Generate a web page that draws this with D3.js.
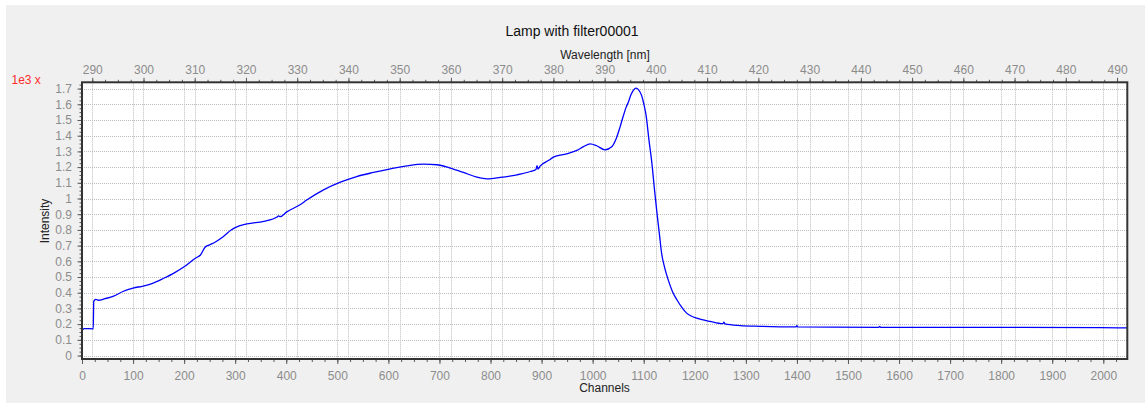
<!DOCTYPE html>
<html>
<head>
<meta charset="utf-8">
<script src="https://cdn.jsdelivr.net/npm/d3@7"></script>
<style>
  html, body { margin: 0; padding: 0; background: #ffffff; }
  svg { display: block; font-family: "Liberation Sans", Arial, sans-serif; }
</style>
</head>
<body>
<svg id="chart" width="1145" height="403"></svg>
<script>
// Spectrum: detector channel vs. intensity (counts)
const channels = [0, 4, 22, 23, 27, 32, 45, 62, 80, 100, 120, 137, 160, 180, 200, 222, 232, 241, 250, 262,
  277, 292, 300, 323, 356, 382, 385, 388, 401, 427, 440, 473, 506, 538, 571, 604, 636, 669, 695, 721,
  747, 773, 793, 819, 852, 878, 889, 891, 893, 897, 915, 923, 949, 969, 982, 995, 1008, 1024, 1038, 1046, 1054,
  1060, 1066, 1070, 1075, 1080, 1085, 1090, 1096, 1100, 1105, 1110, 1116, 1121, 1126, 1131, 1135, 1141, 1148, 1156,
  1165, 1175, 1184, 1194, 1204, 1230, 1255, 1257, 1259, 1289, 1328,
  1398, 1400, 1402, 1560, 1562, 1564, 1800, 1995, 2047];
const intensity = [160, 172, 170, 345, 358, 352, 362, 378, 408, 430, 442, 458, 492, 525, 565, 620, 640, 690, 705, 725,
  758, 800, 815, 838, 855, 882, 890, 884, 915, 960, 990, 1055, 1104, 1140, 1166, 1189, 1208, 1219, 1215, 1194,
  1166, 1136, 1125, 1134, 1151, 1172, 1185, 1210, 1188, 1206, 1245, 1264, 1285, 1306, 1330, 1348, 1336, 1310, 1331, 1380, 1459,
  1525, 1585, 1615, 1660, 1690, 1703, 1692, 1655, 1605, 1522, 1380, 1225, 1060, 907, 765, 652, 560, 482, 410,
  355, 305, 270, 250, 238, 217, 203, 212, 202, 191, 186,
  182, 190, 182, 180, 186, 180, 180, 178, 176];

// Axis ranges and tick values
const channelDomain = [0, 2047];
const wavelengthDomain = [288, 492];          // nm, linear calibration over the channel range
const intensityDomain = [-22, 1740];
const channelTicks = d3.range(0, 2001, 100);
const channelMinor = d3.range(0, 2047, 25);
const wavelengthTicks = d3.range(290, 491, 10);
const wavelengthMinor = d3.range(290, 492, 2.5);
const intensityTicks = d3.range(0, 1701, 100);
const intensityMinor = d3.range(0, 1740, 25);

const titleText = "Lamp with filter00001";
const xTitle = "Channels";
const x2Title = "Wavelength [nm]";
const yTitle = "Intensity";
const yMultiplier = "1e3 x";

const svg = d3.select("#chart");
const W = 1145, H = 403;
const plot = { left: 82, right: 1127.3, top: 82.3, bottom: 359 };

// Panel background
svg.append("rect").attr("x", 6).attr("y", 5).attr("width", W - 6).attr("height", H - 5).attr("fill", "#f0f0f0");
svg.append("rect")
  .attr("x", plot.left).attr("y", plot.top)
  .attr("width", plot.right - plot.left).attr("height", plot.bottom - plot.top)
  .attr("fill", "#ffffff");

const x = d3.scaleLinear().domain(channelDomain).range([plot.left, plot.right]);
const xw = d3.scaleLinear().domain(wavelengthDomain).range([plot.left, plot.right]);
const y = d3.scaleLinear().domain(intensityDomain).range([plot.bottom, plot.top]);

// Dotted grid lines: both x axes' majors and the intensity majors
const grid = svg.append("g").attr("stroke", "#bdbdbd").attr("stroke-width", 1).attr("stroke-dasharray", "1,1");
grid.selectAll(".gx").data(channelTicks).join("line")
  .attr("x1", d => Math.round(x(d)) + 0.5).attr("x2", d => Math.round(x(d)) + 0.5)
  .attr("y1", plot.top).attr("y2", plot.bottom);
grid.selectAll(".gw").data(wavelengthTicks).join("line")
  .attr("x1", d => Math.round(xw(d)) + 0.5).attr("x2", d => Math.round(xw(d)) + 0.5)
  .attr("y1", plot.top).attr("y2", plot.bottom);
grid.selectAll(".gy").data(intensityTicks).join("line")
  .attr("x1", plot.left).attr("x2", plot.right)
  .attr("y1", d => Math.round(y(d)) + 0.5).attr("y2", d => Math.round(y(d)) + 0.5);

// Spectrum line
const pts = channels.map((c, i) => [c, intensity[i]]);
svg.append("path")
  .datum(pts)
  .attr("fill", "none")
  .attr("stroke", "#0000ff")
  .attr("stroke-width", 1.3)
  .attr("stroke-linejoin", "round")
  .attr("d", d3.line().curve(d3.curveMonotoneX).x(d => x(d[0])).y(d => y(d[1])));

// Axes
const tickColor = "#5a5a5a";
const labelColor = "#8c8c8c";
function styleAxis(g) {
  g.select(".domain").remove();
  g.selectAll(".tick line").attr("stroke", tickColor);
  g.selectAll(".tick text").attr("fill", labelColor).attr("font-size", 12)
    .attr("font-family", "'Liberation Sans', Arial, sans-serif");
}

// bottom: channels
svg.append("g").attr("transform", `translate(0,${plot.bottom})`)
  .call(d3.axisBottom(x).tickValues(channelMinor).tickSize(3).tickFormat(""))
  .call(styleAxis);
svg.append("g").attr("transform", `translate(0,${plot.bottom})`)
  .call(d3.axisBottom(x).tickValues(channelTicks).tickSize(5).tickPadding(7).tickFormat(d3.format("d")))
  .call(styleAxis);

// top: wavelength
svg.append("g").attr("transform", `translate(0,${plot.top})`)
  .call(d3.axisTop(xw).tickValues(wavelengthMinor).tickSize(2.5).tickFormat(""))
  .call(styleAxis);
svg.append("g").attr("transform", `translate(0,${plot.top})`)
  .call(d3.axisTop(xw).tickValues(wavelengthTicks).tickSize(4.5).tickPadding(4).tickFormat(d3.format("d")))
  .call(styleAxis);

// left: intensity, labelled in thousands
svg.append("g").attr("transform", `translate(${plot.left},0)`)
  .call(d3.axisLeft(y).tickValues(intensityMinor).tickSize(2.5).tickFormat(""))
  .call(styleAxis);
svg.append("g").attr("transform", `translate(${plot.left},0)`)
  .call(d3.axisLeft(y).tickValues(intensityTicks).tickSize(4.5).tickPadding(5.5).tickFormat(d => d3.format("~g")(d / 1000)))
  .call(styleAxis);

// Plot frame
svg.append("rect")
  .attr("x", plot.left).attr("y", plot.top)
  .attr("width", plot.right - plot.left).attr("height", plot.bottom - plot.top)
  .attr("fill", "none").attr("stroke", "#333333").attr("stroke-width", 2);

// Titles
svg.append("text").attr("x", 572).attr("y", 36).attr("text-anchor", "middle")
  .attr("font-size", 14).attr("fill", "#111").text(titleText);
svg.append("text").attr("x", 605).attr("y", 58.5).attr("text-anchor", "middle")
  .attr("font-size", 12).attr("fill", "#222").text(x2Title);
svg.append("text").attr("x", 604.5).attr("y", 392).attr("text-anchor", "middle")
  .attr("font-size", 12).attr("fill", "#222").text(xTitle);
svg.append("text").attr("transform", "translate(48.5,221) rotate(-90)").attr("text-anchor", "middle")
  .attr("font-size", 12).attr("fill", "#222").text(yTitle);
svg.append("text").attr("x", 11.5).attr("y", 84).attr("font-size", 12)
  .attr("fill", "#ff2d2d").text(yMultiplier);
</script>
</body>
</html>
